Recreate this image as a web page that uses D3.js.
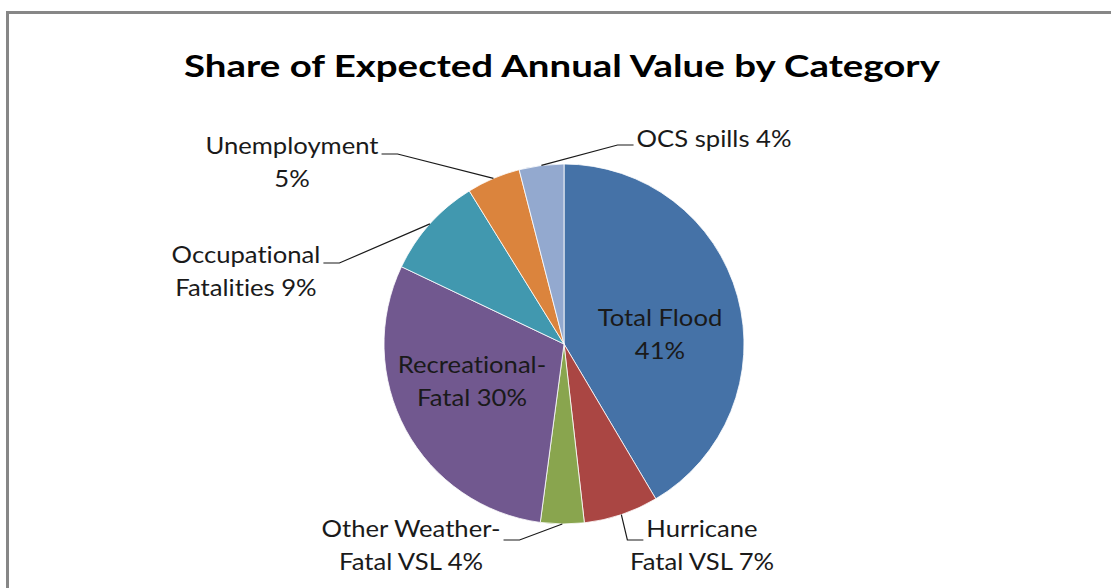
<!DOCTYPE html>
<html>
<head>
<meta charset="utf-8">
<script src="https://cdn.jsdelivr.net/npm/d3@7"></script>
<style>
  html, body { margin: 0; padding: 0; background: #fff; }
  svg { display: block; }
  text { font-variant-ligatures: none; font-feature-settings: "liga" 0, "clig" 0; }
</style>
</head>
<body>
<svg id="chart" width="1111" height="588"></svg>
<script>
// ---- data ----
const title = "Share of Expected Annual Value by Category";
const categories = ["Total Flood", "Hurricane Fatal VSL", "Other Weather-Fatal VSL",
  "Recreational-Fatal", "Occupational Fatalities", "Unemployment", "OCS spills"];
const values = [41.4, 6.7, 3.9, 29.9, 9.1, 4.8, 4.0];
// label text lines; {p} is replaced by the percentage
const labelLines = [
  ["Total Flood", "{p}"],
  ["Hurricane", "Fatal VSL {p}"],
  ["Other Weather-", "Fatal VSL {p}"],
  ["Recreational-", "Fatal {p}"],
  ["Occupational", "Fatalities {p}"],
  ["Unemployment", "{p}"],
  ["OCS spills {p}"]
];
const colors = ["#4572A7", "#AA4643", "#89A54E", "#71588F", "#4198AF", "#DB843D", "#93A9CF"];

// ---- layout (not data) ----
const W = 1111, H = 588;
const cx = 564, cy = 344, R = 180;
const font = "Lato, 'Open Sans', sans-serif";
const labelSize = 22.5;
const labelSX = 1.14;   // horizontal stretch of the reference text
const titleSX = 1.24;
const lineH = 33;
// label placement: centre x, first baseline y, leader side
const labelLayout = [
  { x: 660, y: 326, inside: true },
  { x: 702, y: 537, side: "left", ly: 540 },
  { x: 411, y: 537, side: "right", ly: 540 },
  { x: 472, y: 373, inside: true },
  { x: 246, y: 263, side: "right", ly: 263 },
  { x: 292, y: 154, side: "right", ly: 154 },
  { x: 714, y: 147, side: "left", ly: 145 }
];

const svg = d3.select("#chart");

// frame
svg.append("rect")
  .attr("x", 7.5).attr("y", 12.5)
  .attr("width", W + 20).attr("height", H + 20)
  .attr("fill", "#fff")
  .attr("stroke", "#878787").attr("stroke-width", 3);

// title
svg.append("g")
  .attr("transform", `translate(562,77) scale(${titleSX},1)`)
  .append("text")
  .attr("x", 0).attr("y", 0)
  .attr("text-anchor", "middle")
  .attr("font-family", font)
  .attr("font-weight", "bold")
  .attr("font-size", 31)
  .attr("fill", "#000")
  .text(title);

const total = d3.sum(values);
const fmt = d3.format(".0%");
const data = categories.map((c, i) => ({ name: c, value: values[i], i }));

const pie = d3.pie().value(d => d.value).sort(null);
const arcs = pie(data);
const arc = d3.arc().innerRadius(0).outerRadius(R);
const edgeArc = d3.arc().innerRadius(R).outerRadius(R);

const g = svg.append("g").attr("transform", `translate(${cx},${cy})`);
g.selectAll("path.slice")
  .data(arcs)
  .join("path")
  .attr("class", "slice")
  .attr("d", arc)
  .attr("fill", d => colors[d.index])
  .attr("stroke", "#fff")
  .attr("stroke-width", 0.8)
  .attr("stroke-linejoin", "round");

// labels
arcs.forEach(a => {
  const L = labelLayout[a.index];
  const pct = fmt(a.value / total);
  const lines = labelLines[a.index].map(s => s.replace("{p}", pct));
  const t = svg.append("g")
    .attr("transform", `translate(${L.x},${L.y}) scale(${labelSX},1)`)
    .append("text")
    .attr("text-anchor", "middle")
    .attr("font-family", font)
    .attr("font-size", labelSize)
    .attr("fill", "#1a1a1a");
  lines.forEach((s, k) => {
    t.append("tspan").attr("x", 0).attr("y", k * lineH).text(s);
  });
  if (!L.inside) {
    const first = t.select("tspan").node();
    const w = first.getComputedTextLength() * labelSX;
    const gap = 3, hor = 16;
    const x0 = L.side === "left" ? L.x - w / 2 - gap : L.x + w / 2 + gap;
    const x1 = L.side === "left" ? x0 - hor : x0 + hor;
    const e = edgeArc.centroid(a);
    const pts = [[x0, L.ly], [x1, L.ly], [cx + e[0], cy + e[1]]];
    svg.append("path")
      .attr("d", d3.line()(pts))
      .attr("fill", "none")
      .attr("stroke", "#1a1a1a")
      .attr("stroke-width", 1.2);
  }
});
</script>
</body>
</html>
